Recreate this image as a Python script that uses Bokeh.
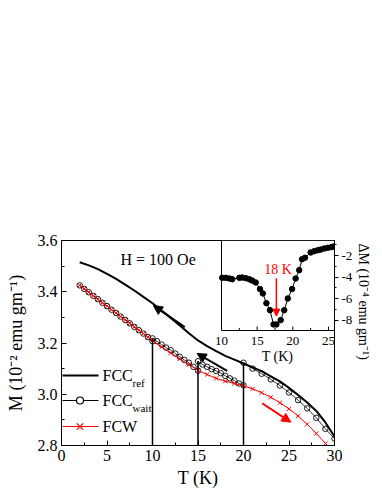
import math
from bokeh.plotting import figure
from bokeh.models import Range1d, LinearAxis, FixedTicker, Label, Arrow, NormalHead, Title
from bokeh.embed import file_html
from bokeh.resources import INLINE

FONT = "Liberation Serif"

# ---------------- data ----------------
# FCC_ref : field-cooled cooling reference curve
T_ref = [2, 3, 4, 5, 6, 7, 8, 9, 10, 11, 12, 13, 14, 15, 16, 17, 18, 19, 20,
         21, 22, 23, 24, 25, 26, 27, 28, 29, 30]
M_ref = [3.515, 3.503, 3.488, 3.470, 3.450, 3.428, 3.405, 3.380, 3.355, 3.327,
         3.298, 3.268, 3.238, 3.210, 3.188, 3.168, 3.150, 3.135, 3.120, 3.105,
         3.090, 3.070, 3.050, 3.025, 2.997, 2.968, 2.935, 2.890, 2.835]

# FCW : field-cooled warming
T_fcw = [2.0, 2.5, 3.0, 3.5, 4.0, 4.5, 5.0, 5.5, 6.0, 6.5, 7.0, 7.5, 8.0, 8.5,
         9.0, 9.5, 10, 11, 12, 13, 14, 15, 16, 17, 18, 19, 20, 21, 22, 23, 24,
         25, 26, 27, 28, 29, 30]
M_fcw = [3.425, 3.411, 3.398, 3.384, 3.371, 3.357, 3.344, 3.330, 3.317, 3.303,
         3.290, 3.277, 3.263, 3.250, 3.237, 3.223, 3.210, 3.185, 3.161, 3.138,
         3.116, 3.093, 3.077, 3.062, 3.051, 3.042, 3.033, 3.021, 3.006, 2.988,
         2.967, 2.943, 2.915, 2.883, 2.847, 2.808, 2.765]

# FCC_wait : cooling with stops at 20, 15 and 10 K (in measuring order)
T_wait = [30, 29, 28, 27, 26, 25, 24, 23, 22, 21, 20,
          20, 19.5, 19, 18.5, 18, 17.5, 17, 16.5, 16, 15.5, 15,
          15, 14.5, 14, 13.5, 13, 12.5, 12, 11.5, 11, 10.5, 10,
          10, 9.5, 9, 8.5, 8, 7.5, 7, 6.5, 6, 5.5, 5, 4.5, 4, 3.5, 3, 2.5, 2]
M_wait = [2.827, 2.865, 2.908, 2.945, 2.977, 3.007, 3.034, 3.058, 3.080, 3.100, 3.123,
          3.035, 3.042, 3.053, 3.062, 3.072, 3.082, 3.091, 3.098, 3.107, 3.116, 3.129,
          3.092, 3.107, 3.123, 3.134, 3.146, 3.159, 3.172, 3.182, 3.194, 3.207, 3.218,
          3.207, 3.223, 3.237, 3.250, 3.263, 3.277, 3.290, 3.303, 3.317, 3.330, 3.344,
          3.357, 3.371, 3.384, 3.398, 3.411, 3.425]
stop_T = [10, 15, 20]

# inset : Delta M (10^-4 emu/g) vs T
T_in = [10.1, 10.6, 11.1, 11.5, 12.5, 12.9, 13.4, 13.9, 14.3, 14.8, 15.4, 15.8,
        16.3, 16.8, 17.3, 17.7, 18.3, 18.8, 19.3, 19.9, 20.4, 20.9, 21.3, 21.7,
        22.5, 23.0, 23.5, 23.9, 24.4, 24.9, 25.4, 25.7]
dM_in = [-4.06, -4.06, -4.12, -4.19, -4.06, -4.03, -4.09, -4.19, -4.31, -4.49,
         -5.10, -5.50, -6.40, -7.05, -8.37, -8.37, -7.97, -7.05, -5.97, -5.10,
         -4.12, -3.35, -2.34, -2.21, -1.72, -1.60, -1.51, -1.45, -1.35, -1.29,
         -1.23, -1.17]
peak_T = 17.7

x_ticks = [0, 5, 10, 15, 20, 25, 30]
y_ticks = [2.8, 3.0, 3.2, 3.4, 3.6]
inset_x_ticks = [10, 15, 20, 25]
inset_y_ticks = [-2, -4, -6, -8]

# ---------------- geometry ----------------
W, H = 382, 494
FL, FR, FT, FB = 61, 48, 240, 49
frame_w = W - FL - FR
frame_h = H - FT - FB
X0, X1 = 0, 30
Y0, Y1 = 2.8, 3.6
IX0, IX1 = 10.0, 25.85
IY0, IY1 = -8.93, -0.61
INSET_W_PX, INSET_H_PX = 113, 90
ix_start = IX1 - (IX1 - IX0) * frame_w / INSET_W_PX
iy_start = IY1 - (IY1 - IY0) * frame_h / INSET_H_PX

PL, PT = FL, FT  # canvas coords of frame left/top


def mx(px):
    return X0 + (px - PL) * (X1 - X0) / frame_w


def my(py):
    return Y1 - (py - PT) * (Y1 - Y0) / frame_h


def ix(px):
    return ix_start + (px - PL) * (IX1 - ix_start) / frame_w


def iy(py):
    return IY1 - (py - PT) * (IY1 - iy_start) / frame_h


p = figure(width=W, height=H, x_range=Range1d(X0, X1), y_range=Range1d(Y0, Y1),
           output_backend="svg", toolbar_location=None,
           min_border_left=FL, min_border_right=FR, min_border_top=FT,
           min_border_bottom=FB)
p.extra_x_ranges = {"inset": Range1d(ix_start, IX1)}
p.extra_y_ranges = {"inset": Range1d(iy_start, IY1)}
p.grid.visible = False
p.background_fill_color = "white"
p.border_fill_color = "white"
p.outline_line_color = "black"
p.outline_line_width = 1
p.outline_line_alpha = 1

for ax, ticks in ((p.xaxis[0], x_ticks), (p.yaxis[0], y_ticks)):
    minors = [(a + b) / 2 for a, b in zip(ticks[:-1], ticks[1:])]
    ax.ticker = FixedTicker(ticks=ticks, minor_ticks=minors)
    ax.major_tick_in = 5
    ax.major_tick_out = 0
    ax.minor_tick_in = 3
    ax.minor_tick_out = 0
    ax.axis_line_color = "black"
    ax.major_tick_line_color = "black"
    ax.minor_tick_line_color = "black"
    ax.major_label_text_font = FONT
    ax.major_label_text_font_size = "16px"
    ax.major_label_text_color = "black"
    ax.major_label_standoff = 4
    ax.axis_label_text_font = FONT
    ax.axis_label_text_font_size = "18px"
    ax.axis_label_text_font_style = "normal"
    ax.axis_label_text_color = "black"
p.xaxis.major_label_overrides = {t: str(t) for t in x_ticks}
p.yaxis.major_label_overrides = {t: f"{t:.1f}" for t in y_ticks}
p.xaxis.axis_label = "T (K)"
p.xaxis.axis_label_standoff = 4
p.yaxis.axis_label = "M (10\u207b\u00b2 emu gm\u207b\u00b9)"
p.yaxis.axis_label_standoff = 9

# inset right axis
ax_r = LinearAxis(y_range_name="inset",
                  ticker=FixedTicker(ticks=inset_y_ticks,
                                     minor_ticks=[t + 1 for t in inset_y_ticks]),
                  major_tick_in=0, major_tick_out=4, minor_tick_in=0, minor_tick_out=2,
                  major_label_standoff=3, axis_line_color="black",
                  major_label_text_font=FONT, major_label_text_font_size="13px",
                  major_label_text_color="black")
ax_r.major_label_overrides = {t: str(t) for t in inset_y_ticks}
p.add_layout(ax_r, "right")
p.add_layout(Title(text="\u0394M (10\u207b\u2074 emu gm\u207b\u00b9)", align="left",
                   offset=3, standoff=0, text_font=FONT, text_font_size="14px",
                   text_font_style="normal", text_color="black"), "right")

# ---------------- main curves ----------------
p.line(T_ref, M_ref, line_color="black", line_width=2)
p.line(T_wait, M_wait, line_color="black", line_width=0.8)
p.scatter(T_wait, M_wait, marker="circle", size=5.5, fill_color=None,
          line_color="black", line_width=0.9)
p.line(T_fcw, M_fcw, line_color="red", line_width=1)
p.scatter(T_fcw, M_fcw, marker="x", size=6, line_color="red", line_width=1)

stop_top = [max(m for t, m in zip(T_wait, M_wait) if t == s) for s in stop_T]
p.segment(x0=stop_T, y0=[Y0] * len(stop_T), x1=stop_T, y1=stop_top,
          line_color="black", line_width=1.5)

# arrows
for (xs, ys, xe, ye, c) in ((13.55, 3.262, 10.1, 3.346, "black"),
                            (18.2, 3.091, 14.9, 3.159, "black"),
                            (22.05, 2.965, 25.2, 2.891, "red")):
    p.add_layout(Arrow(x_start=xs, y_start=ys, x_end=xe, y_end=ye,
                       line_color=c, line_width=2,
                       end=NormalHead(size=9, fill_color=c, line_color=c, line_width=1)))

p.add_layout(Label(x=mx(120), y=my(259), text="H = 100 Oe", text_font=FONT,
                   text_font_size="16px", text_baseline="middle", text_align="left",
                   text_color="black"))

# legend
rows_px = [375, 400, 426]
rows = [my(v) for v in rows_px]
lx0, lx1, lxm = mx(62), mx(98), mx(79.5)
p.line([lx0, lx1], [rows[0]] * 2, line_color="black", line_width=2)
p.line([lx0, lx1], [rows[1]] * 2, line_color="black", line_width=1)
p.scatter([lxm], [rows[1]], marker="circle", size=7, fill_color="white",
          line_color="black", line_width=1.2)
p.line([lx0, lx1], [rows[2]] * 2, line_color="red", line_width=1)
p.scatter([lxm], [rows[2]], marker="x", size=9, line_color="red", line_width=1.2)
for py, (main, sub) in zip(rows_px, (("FCC", "ref"), ("FCC", "wait"), ("FCW", ""))):
    p.add_layout(Label(x=mx(102), y=my(py), text=main, text_font=FONT,
                       text_font_size="16px", text_baseline="middle", text_color="black"))
    if sub:
        p.add_layout(Label(x=mx(132), y=my(py + 7), text=sub, text_font=FONT,
                           text_font_size="11px", text_baseline="middle",
                           text_color="black"))

# ---------------- inset ----------------
R = dict(x_range_name="inset", y_range_name="inset")
p.quad(left=IX0, right=IX1, bottom=IY0, top=IY1, fill_color="white",
       line_color="black", line_width=1, **R)
p.line(T_in, dM_in, line_color="black", line_width=1, **R)
p.scatter(T_in, dM_in, marker="circle", size=5.5, fill_color="black",
          line_color="black", **R)
unit_y = (IY1 - iy_start) / frame_h  # data units per pixel
maj = inset_x_ticks[1:]
mnr = [(a + b) / 2 for a, b in zip(inset_x_ticks[:-1], inset_x_ticks[1:])]
p.segment(x0=maj, y0=[IY0] * len(maj), x1=maj, y1=[IY0 + 4 * unit_y] * len(maj),
          line_color="black", line_width=1, **R)
p.segment(x0=mnr, y0=[IY0] * len(mnr), x1=mnr, y1=[IY0 + 2.5 * unit_y] * len(mnr),
          line_color="black", line_width=1, **R)
for t in inset_x_ticks:
    p.add_layout(Label(x=t, y=iy(340), text=str(t), text_font=FONT,
                       text_font_size="13px", text_align="center",
                       text_baseline="middle", text_color="black", **R))
p.add_layout(Label(x=ix(277), y=iy(356), text="T (K)", text_font=FONT,
                   text_font_size="14px", text_align="center", text_baseline="middle",
                   text_color="black", **R))
p.add_layout(Arrow(x_start=peak_T, y_start=-4.1, x_end=peak_T, y_end=-7.6,
                   line_color="red", line_width=1.5,
                   end=NormalHead(size=7, fill_color="red", line_color="red"), **R))
p.add_layout(Label(x=ix(277.5), y=iy(269), text="18 K", text_font=FONT,
                   text_font_size="14px", text_align="center", text_baseline="middle",
                   text_color="red", **R))

open("out.html", "w").write(file_html(p, INLINE))
